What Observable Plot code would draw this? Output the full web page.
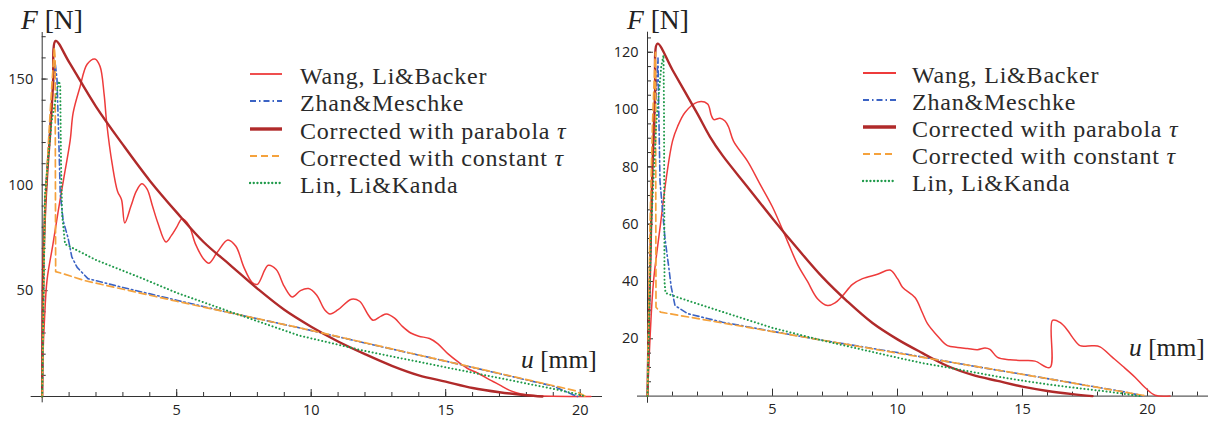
<!DOCTYPE html>
<html><head><meta charset="utf-8">
<script src="https://cdn.jsdelivr.net/npm/d3@7"></script>
<script src="https://cdn.jsdelivr.net/npm/@observablehq/plot@0.6"></script>
<style>
body{margin:0;background:#fff;}
#wrap{position:relative;width:1214px;height:421px;overflow:hidden;background:#fff;}
.panel{position:absolute;top:0;}
.lab{position:absolute;font-family:"Liberation Serif","Times New Roman",serif;color:#222;white-space:nowrap;line-height:1;}
.lab i{font-style:italic;}
.legend{position:absolute;font-family:"Liberation Serif","Times New Roman",serif;font-size:24px;letter-spacing:0.8px;color:#2a2a2a;}
.row{display:flex;align-items:flex-start;height:27.2px;}
.row svg{flex:none;}
.row span{line-height:27.2px;white-space:nowrap;}
</style></head><body><div id="wrap"></div>
<script>
// ---------- data: [u (mm), F (N)] ----------
const seriesNames = ["Wang, Li&Backer", "Zhan&Meschke", "Corrected with parabola \u03C4", "Corrected with constant \u03C4", "Lin, Li&Kanda"];

const wangLeft = [[0,0],[0.03,20],[0.08,35],[0.18,55],[0.4,72],[0.6,88],[0.8,103],[1.04,121],[1.15,134],[1.4,146],[1.67,157],[1.96,159.5],[2.15,156],[2.3,143],[2.4,129],[2.6,110],[2.8,97],[2.95,93],[3.07,82],[3.3,90],[3.5,97],[3.7,100.5],[3.9,98],[4.1,90],[4.3,82],[4.6,73],[4.8,76],[5.0,80],[5.2,84],[5.45,81],[5.7,72],[6.0,65],[6.2,63],[6.5,68],[6.9,74],[7.2,71],[7.5,61],[7.8,54],[8.0,53],[8.4,62],[8.7,60],[9.0,52],[9.3,47],[9.6,50],[9.9,51],[10.2,48],[10.5,41],[10.7,39],[11.0,41],[11.5,46],[11.8,45],[12.1,39],[12.3,36],[12.6,38],[12.8,39],[13.1,37],[13.4,33],[13.7,30],[14.0,28.5],[14.4,27.4],[14.7,25],[15.1,20],[15.5,16],[15.85,13],[16.2,11],[16.7,7.5],[17.0,5.5],[17.4,2.8],[17.8,1.2],[18.2,0.5],[20.4,0]];
const zhanLeft = [[0,0],[0.1,90],[0.3,130],[0.48,158],[0.55,150],[0.62,120],[0.67,96],[0.78,83],[0.96,75],[1.1,66],[1.3,61],[1.7,55.7],[3,51.5],[5,45.5],[7,39.5],[9.55,32.5],[12,25.3],[15,16.7],[17,10.8],[19,4.9],[19.7,1],[19.9,0]];
const paraLeft = [[0,0],[0.03,55],[0.1,85],[0.2,108],[0.3,125],[0.4,147],[0.5,168],[1,158],[2,137],[3,119],[4,102],[5,87],[6,73],[7,62],[8,51],[9,41],[10,33],[11,26],[12,20],[13,14.5],[14,10],[15,7],[16,4],[17,2],[18,0.6],[18.6,0]];
const consLeft = [[0,0],[0.1,90],[0.3,135],[0.45,165],[0.48,160],[0.5,59],[0.78,58],[1.6,54.7],[5,45],[9.55,32.5],[15,16.7],[19.8,2.8],[20.2,0]];
const linLeft = [[0,0],[0.1,95],[0.35,130],[0.62,149],[0.67,147],[0.7,110],[0.74,86],[0.85,72],[2,64.5],[3.74,55.7],[5,49],[7,40],[9.55,28.8],[12,21.5],[15,13.8],[17,8.7],[19,3.6],[19.8,1.4],[20.2,0]];

const wangRight = [[0,0],[0.1,20],[0.24,40],[0.52,60],[0.75,76],[1.0,89],[1.2,94],[1.5,99],[2.0,102.6],[2.4,102],[2.55,98],[2.65,96.5],[2.9,97],[3.1,96],[3.24,94],[3.44,89],[4.0,82],[4.5,74],[5.0,66],[5.6,54],[6.0,46],[6.4,40],[6.8,34],[7.2,31.6],[7.5,32.5],[7.8,35],[8.2,39],[8.6,41],[9.2,42.5],[9.7,44],[10.0,41],[10.2,38],[10.7,34.4],[11.0,29],[11.2,25.3],[11.6,21],[12,17.6],[12.4,17],[12.8,16.6],[13.2,16.2],[13.5,16.8],[13.7,16.3],[14,13.5],[14.5,12.7],[15,12.4],[15.5,12.2],[16.1,10],[16.2,26.4],[16.5,25.7],[16.8,23],[17,20.5],[17.3,17.6],[17.8,17.6],[18.1,17.2],[18.6,13.5],[19,10.5],[19.5,6.6],[19.9,3],[20.3,0.3],[20.9,0]];
const zhanRight = [[0,0],[0.2,80],[0.42,118],[0.45,100],[0.5,75],[0.7,55],[0.85,45],[0.95,38],[1.1,31.6],[1.6,28.8],[3,25.8],[5,22.6],[7,19.5],[10,15.2],[13,10.5],[15,7.6],[17,4.6],[19,1.6],[19.6,0.5],[19.8,0]];
const paraRight = [[0,0],[0.05,25],[0.12,50],[0.2,80],[0.3,105],[0.4,123],[1,113.8],[2,98.5],[2.5,90.5],[3,84],[4,73],[5,62],[6,51.5],[7,41.5],[8,33],[9,25.5],[10,19.8],[11,15],[12,10.5],[13,7.4],[14,5.3],[15,3.3],[16,1.8],[17,0.7],[17.8,0]];
const consRight = [[0,0],[0.1,60],[0.2,95],[0.3,118],[0.32,120],[0.34,31],[0.52,29.3],[5,22.5],[10,15],[15,7.6],[19.8,0.3],[20,0]];
const linRight = [[0,0],[0.15,60],[0.35,95],[0.55,115],[0.64,119],[0.66,100],[0.68,40],[0.72,36],[1.2,34.5],[2,32.2],[3,29.4],[4,26.6],[5,23.8],[6,21.6],[7,19.4],[8,17.4],[9,15.4],[10,13.4],[11,11.5],[12,10],[13,8.4],[14,6.8],[15,5.4],[16,4.1],[17,3],[18,2],[19,0.9],[19.5,0.2],[19.7,0]];

const xMajorTicks = [5, 10, 15, 20];
const xMinorLeft = d3.range(1, 21);
const xMinorRight = d3.range(1, 23);
const yMajorLeft = [50, 100, 150];
const yMinorLeft = d3.range(10, 171, 10);
const yMajorRight = [20, 40, 60, 80, 100, 120];
const yMinorRight = d3.range(5, 126, 5);

// ---------- styles ----------
const styles = [
  {stroke: "#ee3b3b", strokeWidth: 1.5, curve: "catmull-rom"},
  {stroke: "#3b63c4", strokeWidth: 1.6, strokeDasharray: "6,3,1.5,3", curve: "linear"},
  {stroke: "#b02a2a", strokeWidth: 2.4, curve: "catmull-rom"},
  {stroke: "#f5a23c", strokeWidth: 1.7, strokeDasharray: "7,4", curve: "linear"},
  {stroke: "#1f9a4a", strokeWidth: 2, strokeDasharray: "0.1,3.6", strokeLinecap: "round", curve: "linear"}
];
const axisColor = "#333";

function panel(o) {
  const series = [o.wang, o.zhan, o.para, o.cons, o.lin];
  const fw = 607 - o.ml - o.mr, fh = 421 - o.mt - o.mb;
  return Plot.plot({
    width: 607, height: 421,
    marginLeft: o.ml, marginRight: o.mr, marginTop: o.mt, marginBottom: o.mb,
    x: {domain: [0, o.xMax], label: null},
    y: {domain: [0, o.yMax], label: null},
    style: {fontFamily: "'Open Sans', sans-serif", fontSize: "14.5px", color: "#222", background: "transparent", overflow: "visible"},
    marks: [
      Plot.ruleY([0], {x1: o.xLeft, x2: o.xMax, stroke: axisColor}),
      Plot.ruleX([0], {y1: o.yBelow, y2: o.yMax, stroke: axisColor}),
      // inward tick marks (x: upward from the axis, y: rightward)
      Plot.ruleX(o.xMinor, {x: d => d, y1: o.yMax, y2: 0, insetTop: fh - 4, stroke: axisColor}),
      Plot.ruleX(xMajorTicks, {x: d => d, y1: o.yMax, y2: 0, insetTop: fh - 7, stroke: axisColor}),
      Plot.ruleY(o.yMinor, {y: d => d, x1: 0, x2: o.xMax, insetRight: fw - 4, stroke: axisColor}),
      Plot.ruleY(o.yMajor, {y: d => d, x1: 0, x2: o.xMax, insetRight: fw - 6, stroke: axisColor}),
      Plot.axisX({ticks: xMajorTicks, tickSize: 0, tickPadding: 8, fill: "#222", label: null}),
      Plot.axisY({ticks: o.yMajor, tickSize: 0, tickPadding: 9, fill: "#222", label: null}),
      ...series.map((s, i) => Plot.line(s, {x: d => d[0], y: d => d[1], ...styles[i], strokeLinejoin: "round"}))
    ]
  });
}

const wrap = document.getElementById("wrap");

const left = panel({wang: wangLeft, zhan: zhanLeft, para: paraLeft, cons: consLeft, lin: linLeft,
  xMax: 20.83, yMax: 172, ml: 41.7, mr: 5, mt: 32, mb: 25, xLeft: -0.41, yBelow: -3,
  xMinor: xMinorLeft, yMinor: yMinorLeft, yMajor: yMajorLeft});
left.classList.add("panel"); left.style.left = "0px";
wrap.appendChild(left);

const right = panel({wang: wangRight, zhan: zhanRight, para: paraRight, cons: consRight, lin: linRight,
  xMax: 22.44, yMax: 127, ml: 40, mr: 6, mt: 31.7, mb: 25.4, xLeft: -0.4, yBelow: -2.5,
  xMinor: xMinorRight, yMinor: yMinorRight, yMajor: yMajorRight});
right.classList.add("panel"); right.style.left = "607px";
wrap.appendChild(right);

// axis labels
function label(html, x, y, size) {
  const d = document.createElement("div");
  d.className = "lab"; d.innerHTML = html;
  d.style.left = x + "px"; d.style.top = y + "px"; d.style.fontSize = size + "px";
  wrap.appendChild(d);
}
label("<i>F</i> [N]", 21, 6, 27.5);
label("<i>F</i> [N]", 627, 6, 27.5);
label("<i>u</i> [mm]", 521, 346.5, 25.5);
label("<i>u</i> [mm]", 1129, 334.5, 25.5);

// legends
function legend(x, y, sw, gap) {
  const lg = document.createElement("div");
  lg.className = "legend";
  lg.style.left = x + "px"; lg.style.top = y + "px";
  seriesNames.forEach((name, i) => {
    const row = document.createElement("div");
    row.className = "row";
    const s = styles[i];
    const svg = `<svg width="${sw}" height="27" style="margin-right:${gap}px"><line x1="1" x2="${sw - 1}" y1="11" y2="11" stroke="${s.stroke}" stroke-width="${s.strokeWidth + (i === 2 ? 1 : 0.3)}" ${s.strokeDasharray ? `stroke-dasharray="${s.strokeDasharray}"` : ""} ${s.strokeLinecap ? `stroke-linecap="${s.strokeLinecap}"` : ""}/></svg>`;
    row.innerHTML = svg + `<span></span>`;
    const span = row.querySelector("span");
    const k = name.indexOf("\u03C4");
    if (k >= 0) {
      span.appendChild(document.createTextNode(name.slice(0, k)));
      const it = document.createElement("i"); it.textContent = "\u03C4"; span.appendChild(it);
    } else span.textContent = name;
    lg.appendChild(row);
  });
  wrap.appendChild(lg);
}
legend(249, 63.3, 34, 17);
legend(862, 61.5, 35, 15);
</script></body></html>
